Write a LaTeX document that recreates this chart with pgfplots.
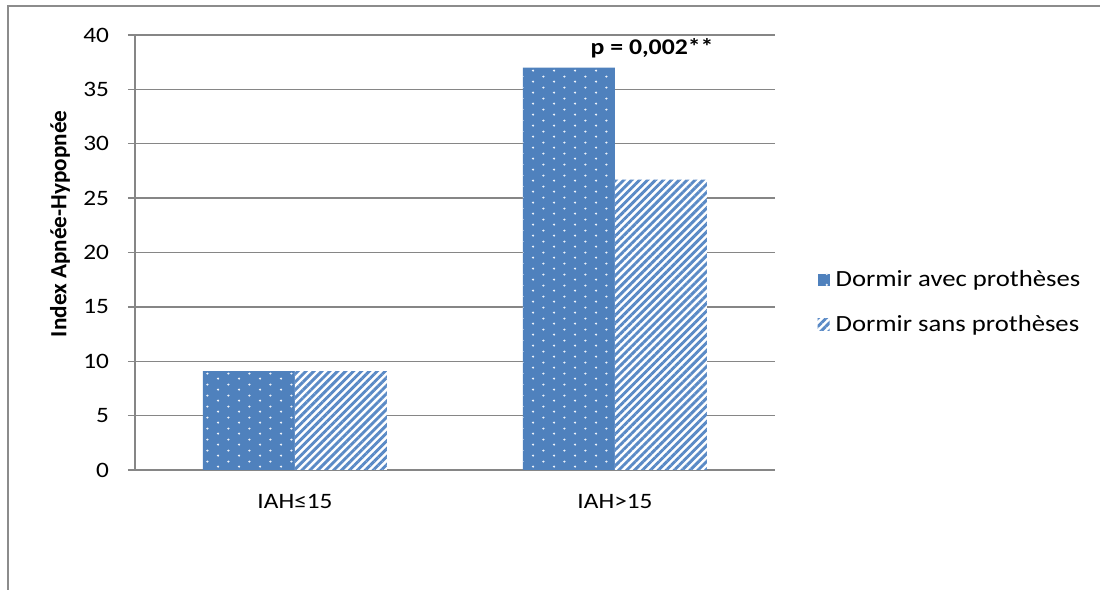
\documentclass[border=0pt]{standalone}
\usepackage{fontspec}
\setmainfont{Carlito}[FakeStretch=1.15]
\newfontfamily\uprightlabel{Carlito}
\usepackage{pgfplots}
\pgfplotsset{compat=1.18}
\usetikzlibrary{patterns,patterns.meta}

\definecolor{barblue}{HTML}{4F81BD}
\definecolor{stripeblue}{HTML}{5A8AC6}
\definecolor{dotwhite}{HTML}{EEF3FA}
\definecolor{gridgray}{HTML}{868686}
\definecolor{framegray}{HTML}{8C8C8C}

% staggered light dots on the solid blue bars
\pgfdeclarepatternformonly{staggereddots}{\pgfqpoint{0pt}{0pt}}{\pgfqpoint{10.67pt}{5.5pt}}{\pgfqpoint{10.67pt}{5.5pt}}{%
  \pgfpathcircle{\pgfqpoint{2.6pt}{1.3pt}}{0.62pt}%
  \pgfpathcircle{\pgfqpoint{7.93pt}{4.05pt}}{0.62pt}%
  \pgfusepath{fill}}

\begin{document}
\begin{tikzpicture}
\path[use as bounding box] (0pt,0pt) rectangle (550pt,295pt);
\draw[framegray, line width=0.8pt] (4pt,0pt) -- (4pt,292pt) -- (550pt,292pt);
\begin{axis}[
  at={(67.5pt,60pt)}, anchor=south west,
  scale only axis, width=320pt, height=217.5pt,
  xmin=-0.5, xmax=1.5, ymin=0, ymax=40,
  ytick={0,5,...,40},
  xtick={0,1}, xticklabels={IAH≤15,IAH>15},
  axis x line*=bottom, axis y line*=left,
  axis line style={draw=gridgray, line width=0.7pt},
  ymajorgrids, grid style={draw=gridgray, line width=0.7pt},
  ytick style={draw=gridgray, line width=0.7pt},
  xtick style={draw=none},
  tick align=outside, major tick length=3.5pt,
  /pgf/number format/assume math mode=true,
  tick label style={font=\fontsize{11}{12}\selectfont},
  yticklabel style={xshift=-6pt},
  xticklabel style={yshift=-5pt},
  ylabel={\uprightlabel\bfseries\fontsize{11.6}{13}\selectfont Index Apnée-Hypopnée},
  ylabel style={at={(axis description cs:-0.117,0.566)}, anchor=center},
  ybar=0pt, bar width=46pt,
  legend style={at={(axis description cs:1.066,0.386)}, anchor=west,
    draw=none, fill=none, font=\fontsize{11.6}{13}\selectfont,
    row sep=9pt, inner sep=0pt,
    nodes={inner xsep=3pt}},
  legend cell align=left,
  legend image code/.code={\draw[#1, draw=none] (0pt,-3pt) rectangle (6pt,3pt);},
]
\addplot[draw=none, fill=barblue,
  postaction={pattern=staggereddots, pattern color=dotwhite}]
  coordinates {(0,9.1) (1,37.0)};
\addplot[draw=none, fill=white,
  postaction={pattern={Lines[angle=45,distance=2.8pt,line width=1.45pt]}, pattern color=stripeblue}]
  coordinates {(0,9.1) (1,26.7)};
\legend{Dormir avec prothèses, Dormir sans prothèses}
\node[font=\bfseries\fontsize{11.2}{13}\selectfont] at (axis cs:1.116,38.8) {p = 0,002**};
\end{axis}
\end{tikzpicture}
\end{document}
